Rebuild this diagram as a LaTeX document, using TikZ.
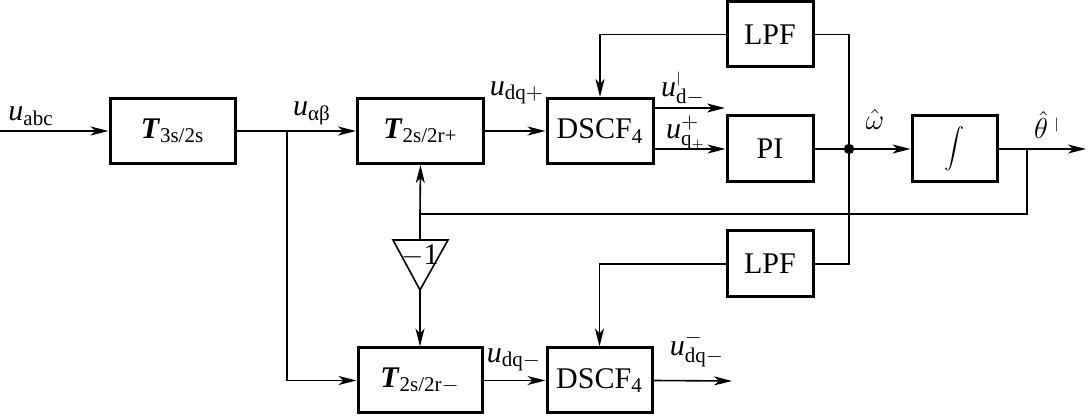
\documentclass[tikz,border=0pt]{standalone}
\usepackage{fontspec}
\setmainfont{Liberation Serif}
\usetikzlibrary{arrows.meta}
\begin{document}
\begin{tikzpicture}[x=0.5pt,y=-0.5pt,
  blk/.style={draw, line width=1.5pt, inner sep=0pt, font=\fontsize{15}{18}\selectfont},
  sig/.style={line width=0.8pt},
  arr/.style={sig,-{Stealth[length=9pt,width=4.5pt,inset=2.5pt]}},
  lbl/.style={inner sep=0pt, font=\fontsize{15}{18}\selectfont}]
\useasboundingbox (0,0) rectangle (1088,416);
% blocks
\node[blk,minimum width=62.5pt,minimum height=32.5pt] (t3) at (172.5,131) {\textbf{\textit{T}}\textsubscript{3s/2s}};
\node[blk,minimum width=63pt,minimum height=32.5pt] (t2p) at (420.5,131) {\textbf{\textit{T}}\textsubscript{2s/2r+}};
\node[blk,minimum width=53pt,minimum height=32.5pt] (ds1) at (600,131) {DSCF\textsubscript{4}};
\node[blk,minimum width=43pt,minimum height=32.5pt] (lpf1) at (770,34.5) {LPF};
\node[blk,minimum width=43pt,minimum height=33pt] (pi) at (770,149) {PI};
\node[blk,minimum width=42.5pt,minimum height=33pt] (int) at (954.5,149) {$\displaystyle\int$};
\node[blk,minimum width=43pt,minimum height=33pt] (lpf2) at (770,264) {LPF};
\node[blk,minimum width=62pt,minimum height=32.5pt] (t2m) at (420,380.5) {\textbf{\textit{T}}\textsubscript{2s/2r$-$}};
\node[blk,minimum width=52.5pt,minimum height=32.5pt] (ds2) at (599.5,380.5) {DSCF\textsubscript{4}};
% gain triangle
\coordinate (tria) at (393,240);
\coordinate (trib) at (448,240);
\coordinate (tric) at (420,290);
\draw[sig] (tria) -- (trib) -- (tric) -- cycle;
\node[lbl] (neg) at (420,256) {$-$1};
% coordinates
\coordinate (in) at (0,131);
\coordinate (br) at (287,131);
\coordinate (o1) at (725,108);
\coordinate (dot) at (849,149);
\coordinate (out) at (1086,149);
\coordinate (br2) at (1027,149);
\coordinate (fb) at (420,214);
\coordinate (trit) at (420,240);
\coordinate (o3) at (732,381);
% connectors
\draw[arr] (in) -- (t3.west);
\draw[arr] (t3.east) -- (t2p.west);
\draw[arr] (br) |- (t2m.west);
\draw[arr] (t2p) -- (ds1);
\draw[arr] (lpf1.west) -| (ds1.north);
\draw[arr] (ds1.east|-o1) -- (o1);
\draw[arr] (ds1.east|-pi) -- (pi.west);
\draw[sig] (pi.east) -- (dot);
\fill (dot) circle (2.6pt);
\draw[arr] (dot) -- (int.west);
\draw[arr] (int.east) -- (out);
\draw[sig] (lpf1.east) -| (dot) |- (lpf2.east);
\draw[sig] (br2) |- (fb);
\draw[arr] (fb) -- (t2p.south);
\draw[sig] (fb) -- (trit);
\draw[arr] (tric) -- (t2m.north);
\draw[arr] (lpf2.west) -| (ds2.north);
\draw[arr] (t2m) -- (ds2);
\draw[arr] (ds2.east) -- (o3);
% labels
\node[lbl] (labc) at (31,116) {$\mathit{u}$\textsubscript{abc}};
\node[lbl] (lab) at (312,113) {$\mathit{u}$\textsubscript{αβ}};
\node[lbl] (ldqp) at (517,93) {$\mathit{u}_{\mathrm{dq}+}$};
\node[lbl] (ldm) at (683,89) {$\mathit{u}^{\scriptscriptstyle|}_{\mathrm{d}-}$};
\node[lbl] (lqp) at (686,133) {$\mathit{u}^{+}_{\mathrm{q}_+}$};
\node[lbl] (lw) at (875,120) {$\hat{\omega}$};
\node[lbl] (lth) at (1047,125) {$\hat{\theta}^{\;\scriptscriptstyle|}$};
\node[lbl] (ldqm) at (514,360) {$\mathit{u}_{\mathrm{dq}-}$};
\node[lbl] (ldqm2) at (697,349) {$\mathit{u}^{-}_{\mathrm{dq}-}$};
\end{tikzpicture}
\end{document}
